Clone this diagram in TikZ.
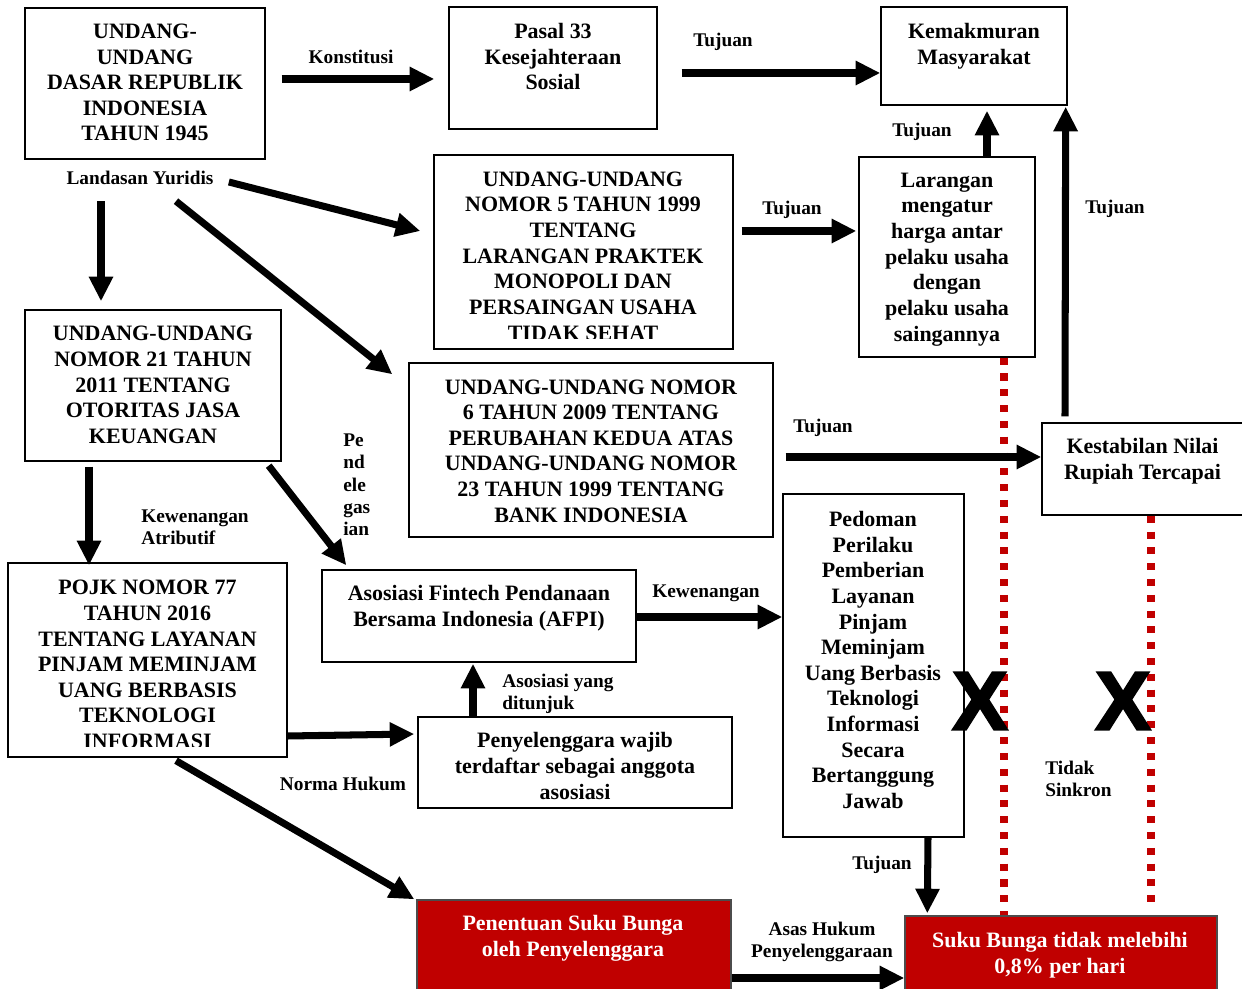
\documentclass[tikz,border=0pt]{standalone}
\usepackage{fontspec}
\setmainfont{Liberation Serif}
\newfontfamily\crossfont[FakeBold=3]{Liberation Sans}
\usetikzlibrary{arrows.meta, calc}

\definecolor{darkred}{HTML}{C00000}

\begin{document}
\begin{tikzpicture}[
    x=0.02cm, y=-0.02cm,
    box/.style={rectangle, draw, line width=0.8pt, fill=white, inner sep=0pt},
    redbox/.style={rectangle, draw=black!70, line width=0.8pt, fill=darkred, inner sep=0pt},
    btext/.style={font=\fontsize{12.5}{14.6}\selectfont\bfseries, align=center, inner sep=0pt},
    lbl/.style={font=\fontsize{11}{12.7}\selectfont\bfseries, align=center, inner sep=0pt},
    cross/.style={font=\fontsize{47}{47}\selectfont\crossfont\bfseries, inner sep=0pt},
    arrow/.style={-{Triangle[length=14pt, width=13pt]}, line width=4pt},
    dots/.style={darkred, line width=4pt, dash pattern=on 4pt off 5pt}
]
    \useasboundingbox (0,0) rectangle (1242,989);

    % --- Boxes ---
    \node[box, minimum width=4.8cm, minimum height=3.02cm] (uud) at (145,83.5) {};
    \node[box, minimum width=4.16cm, minimum height=2.44cm] (pasal) at (553,68) {};
    \node[box, minimum width=3.72cm, minimum height=1.96cm] (kem) at (974,56) {};
    \node[box, minimum width=5.98cm, minimum height=3.88cm] (uu5) at (583.5,252) {};
    \node[box, minimum width=3.52cm, minimum height=4.0cm] (lar) at (947,257) {};
    \node[box, minimum width=5.12cm, minimum height=3.02cm] (uu21) at (153,385.5) {};
    \node[box, minimum width=7.28cm, minimum height=3.48cm] (uu6) at (591,450) {};
    \node[box, minimum width=4.16cm, minimum height=1.84cm] (kes) at (1146,469) {};
    \node[box, minimum width=5.58cm, minimum height=3.88cm] (pojk) at (147.5,660) {};
    \node[box, minimum width=6.28cm, minimum height=1.84cm] (afpi) at (479,616) {};
    \node[box, minimum width=3.62cm, minimum height=6.86cm] (ped) at (873.5,665.5) {};
    \node[box, minimum width=6.28cm, minimum height=1.82cm] (peny) at (575,762.5) {};
    \node[redbox, minimum width=6.28cm, minimum height=2.0cm] (pen) at (574,950) {};
    \node[redbox, minimum width=6.24cm, minimum height=1.88cm] (suku) at (1061,963) {};

    % --- Box texts ---
    \node[btext] (uud-t) at (145,82.5) {UNDANG-\\UNDANG\\DASAR REPUBLIK\\INDONESIA\\TAHUN 1945};
    \node[btext] (pasal-t) at (553,56.5) {Pasal 33\\Kesejahteraan\\Sosial};
    \node[btext] (kem-t) at (974,46) {Kemakmuran\\Masyarakat};
    \begin{scope}
        \clip ($(uu5.south west)+(0,-11)$) rectangle (uu5.north east);
        \node[btext] (uu5-t) at (583,256) {UNDANG-UNDANG\\NOMOR 5 TAHUN 1999\\TENTANG\\LARANGAN PRAKTEK\\MONOPOLI DAN\\PERSAINGAN USAHA\\TIDAK SEHAT};
    \end{scope}
    \node[btext] (lar-t) at (947,259.5) {Larangan\\mengatur\\harga antar\\pelaku usaha\\dengan\\pelaku usaha\\saingannya};
    \node[btext] (uu21-t) at (153,385) {UNDANG-UNDANG\\NOMOR 21 TAHUN\\2011 TENTANG\\OTORITAS JASA\\KEUANGAN};
    \node[btext] (uu6-t) at (591,451) {UNDANG-UNDANG NOMOR\\6 TAHUN 2009 TENTANG\\PERUBAHAN KEDUA ATAS\\UNDANG-UNDANG NOMOR\\23 TAHUN 1999 TENTANG\\BANK INDONESIA};
    \node[btext] (kes-t) at (1142.5,461) {Kestabilan Nilai\\Rupiah Tercapai};
    \begin{scope}
        \clip ($(pojk.south west)+(0,-11)$) rectangle (pojk.north east);
        \node[btext] (pojk-t) at (147.5,664.5) {POJK NOMOR 77\\TAHUN 2016\\TENTANG LAYANAN\\PINJAM MEMINJAM\\UANG BERBASIS\\TEKNOLOGI\\INFORMASI};
    \end{scope}
    \node[btext] (afpi-t) at (479,608.5) {Asosiasi Fintech Pendanaan\\Bersama Indonesia (AFPI)};
    \node[btext] (ped-t) at (873,660) {Pedoman\\Perilaku\\Pemberian\\Layanan\\Pinjam\\Meminjam\\Uang Berbasis\\Teknologi\\Informasi\\Secara\\Bertanggung\\Jawab};
    \node[btext] (peny-t) at (575,766) {Penyelenggara wajib\\terdaftar sebagai anggota\\asosiasi};
    \node[btext, text=white] (pen-t) at (573,938) {Penentuan Suku Bunga\\oleh Penyelenggara};
    \node[btext, text=white] (suku-t) at (1060,955) {Suku Bunga tidak melebihi\\0,8\% per hari};

    % --- Labels ---
    \node[lbl] (l-kons) at (351,57) {Konstitusi};
    \node[lbl] (l-tuj1) at (723,42) {Tujuan};
    \node[lbl] (l-land) at (140,178) {Landasan Yuridis};
    \node[lbl] (l-tuj2) at (792,210) {Tujuan};
    \node[lbl] (l-tuj3) at (922,132) {Tujuan};
    \node[lbl] (l-tuj4) at (1115,209) {Tujuan};
    \node[lbl] (l-tuj5) at (823,428) {Tujuan};
    \node[lbl, align=left, anchor=west] (l-kew1) at (141,527) {Kewenangan\\Atributif};
    \node[lbl, align=left, anchor=west] (l-pend) at (343,485) {Pe\\nd\\ele\\gas\\ian};
    \node[lbl] (l-kew2) at (706,593) {Kewenangan};
    \node[lbl, align=left, anchor=west] (l-asos) at (502,694) {Asosiasi yang\\ditunjuk};
    \node[lbl] (l-norma) at (343,784) {Norma Hukum};
    \node[lbl] (l-tuj6) at (882,865) {Tujuan};
    \node[lbl] (l-asas) at (822,942) {Asas Hukum\\Penyelenggaraan};
    \node[lbl, align=left, anchor=west] (l-tidak) at (1045,779) {Tidak\\Sinkron};

    % --- Red dotted lines ---
    \draw[dots] ($(lar.south)+(57,0)$) -- ($(suku.north)+(-57,0)$);
    \draw[dots] ($(kes.south)+(5,0)$) -- ($(suku.north)+(90,-11)$);

    % --- Arrows ---
    \draw[arrow] ($(uud.east)+(16,-4.5)$) -- ($(pasal.west)+(-14,11)$);
    \draw[arrow] ($(pasal.east)+(24,5)$) -- ($(kem.west)+(0,17)$);
    \draw[arrow] ($(l-land.east)+(15,4)$) -- ($(uu5.west)+(-13,-21)$);
    \draw[arrow] ($(l-land.south)+(36,16)$) -- ($(uu6.north west)+(-16,12)$);
    \draw[arrow] ($(l-land.south)+(-39,16)$) -- ($(uu21.north)+(-52,-8)$);
    \draw[arrow] ($(uu5.east)+(8,-21)$) -- ($(lar.west)+(-2,-26)$);
    \draw[arrow] ($(lar.north)+(40,0)$) -- ($(kem.south)+(13,5)$);
    \draw[arrow] ($(kes.north)+(-81,-6)$) -- ($(kem.south east)+(-2,1)$);
    \draw[arrow] ($(uu6.east)+(12,7)$) -- ($(kes.west)+(0,-12)$);
    \draw[arrow] ($(uu21.south)+(-64,5)$) -- ($(pojk.north)+(-58.5,3)$);
    \draw[arrow] ($(uu21.south east)+(-13,4)$) -- ($(afpi.north west)+(25,-4)$);
    \draw[arrow] ($(afpi.east)+(0,1)$) -- ($(ped.west)+(0,-48.5)$);
    \draw[arrow] ($(peny.north)+(-102,0)$) -- ($(afpi.south)+(-6,1)$);
    \draw[arrow] ($(pojk.east)+(0,76)$) -- ($(peny.west)+(-3,-28.5)$);
    \draw[arrow] ($(pojk.south)+(28.5,3)$) -- ($(pen.north west)+(-2,0)$);
    \draw[arrow] ($(ped.south)+(54.5,0)$) -- ($(suku.north west)+(23,-2)$);
    \draw[arrow] ($(pen.east)+(0,28)$) -- ($(suku.west)+(0,15)$);

    % --- Crosses ---
    \node[cross] (x1) at (980,701) {X};
    \node[cross] (x2) at (1123,701) {X};

\end{tikzpicture}
\end{document}
